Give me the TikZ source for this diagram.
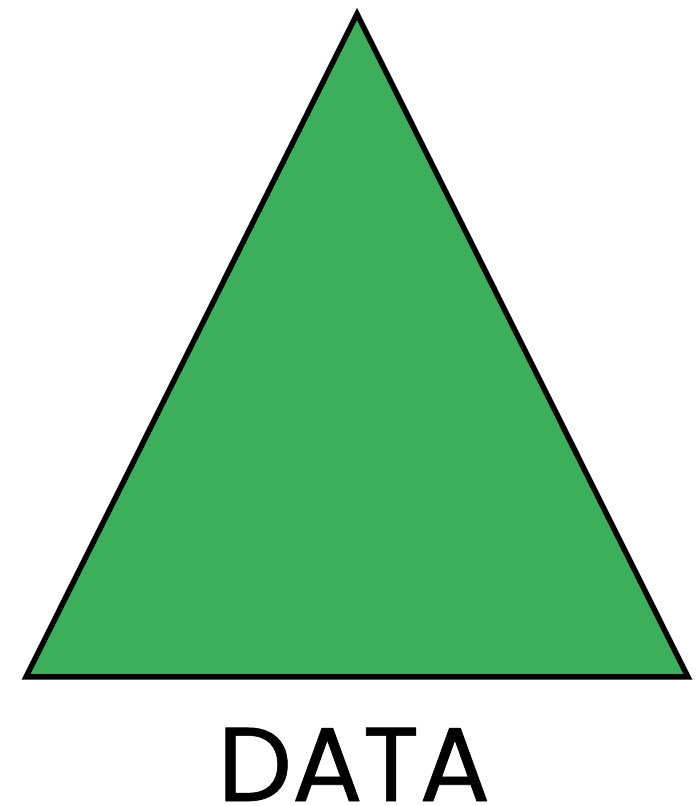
\documentclass[tikz,border=0pt]{standalone}
\usepackage{fontspec}
\setmainfont{Poppins}[FakeBold=0.6]
\definecolor{datagreen}{HTML}{3DAF5A}
\begin{document}
\begin{tikzpicture}[x=1pt,y=1pt,
  tri/.style={draw=black,fill=datagreen,line width=5.5pt,line join=miter},
  lbl/.style={inner sep=0pt,anchor=base,font=\fontsize{105}{115}\selectfont}]
\useasboundingbox (0,0) rectangle (698,806);
\coordinate (apex) at (357,792);
\coordinate (bl) at (26,129);
\coordinate (br) at (688,129);
\draw[tri] (apex) -- (bl) -- (br) -- cycle;
\node[lbl] (data) at (354,5) {DATA};
\end{tikzpicture}
\end{document}
